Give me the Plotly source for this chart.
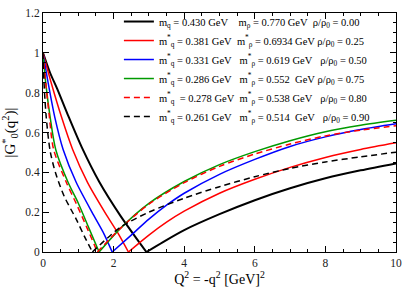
import plotly.graph_objects as go

# ---------------- data ----------------
labels = [
    "m<sub>q</sub> = 0.430 GeV\u00a0\u00a0\u00a0\u00a0m<sub>ρ</sub> = 0.770 GeV\u00a0\u00a0ρ/ρ<sub>0</sub> = 0.00",
    "m<sup>*</sup><sub>q</sub> = 0.381 GeV\u00a0\u00a0m<sup>*</sup><sub>ρ</sub> = 0.6934 GeV ρ/ρ<sub>0</sub> = 0.25",
    "m<sup>*</sup><sub>q</sub> = 0.331 GeV\u00a0\u00a0\u00a0m<sup>*</sup><sub>ρ</sub> = 0.619 GeV\u00a0\u00a0\u00a0ρ/ρ<sub>0</sub> = 0.50",
    "m<sup>*</sup><sub>q</sub> = 0.286 GeV\u00a0\u00a0\u00a0m<sup>*</sup><sub>ρ</sub> = 0.552\u00a0\u00a0GeV\u00a0ρ/ρ<sub>0</sub> = 0.75",
    "m<sup>*</sup><sub>q</sub>\u00a0\u00a0= 0.278 GeV\u00a0\u00a0m<sup>*</sup><sub>ρ</sub> = 0.538 GeV\u00a0\u00a0\u00a0ρ/ρ<sub>0</sub> = 0.80",
    "m<sup>*</sup><sub>q</sub> = 0.261 GeV\u00a0\u00a0\u00a0m<sup>*</sup><sub>ρ</sub> = 0.514\u00a0\u00a0GeV\u00a0\u00a0\u00a0ρ/ρ<sub>0</sub> = 0.90",
]

# black solid, rho/rho0 = 0.00
k_down_x = [0, 0.2, 0.4, 0.7, 1.1, 1.6, 2.2, 2.6, 2.93]
k_down_y = [1, 0.9, 0.82, 0.69, 0.525, 0.35, 0.18, 0.08, 0]
k_up_x = [2.93, 3.4, 4, 5, 6, 7, 8, 9, 10]
k_up_y = [0, 0.05, 0.11, 0.19, 0.26, 0.32, 0.37, 0.41, 0.445]

# red solid, 0.25
r_down_x = [0, 0.24, 0.52, 0.84, 1.26, 1.82, 2.14, 2.42]
r_down_y = [1, 0.845, 0.68, 0.515, 0.35, 0.18, 0.09, 0]
r_up_x = [2.42, 3, 3.5, 4, 5, 6, 7, 8, 9, 10]
r_up_y = [0, 0.085, 0.15, 0.205, 0.295, 0.365, 0.425, 0.475, 0.515, 0.548]

# blue solid, 0.50
b_down_x = [0, 0.15, 0.33, 0.57, 0.94, 1.45, 1.73, 1.96]
b_down_y = [1, 0.845, 0.68, 0.515, 0.35, 0.18, 0.09, 0]
b_up_x = [1.96, 2.5, 3, 3.5, 4, 5, 6, 7, 8, 9, 10]
b_up_y = [0, 0.085, 0.165, 0.235, 0.295, 0.39, 0.465, 0.53, 0.578, 0.615, 0.644]

# green solid, 0.75
g_down_x = [0, 0.08, 0.2, 0.36, 0.71, 1.0, 1.3, 1.59]
g_down_y = [1, 0.845, 0.68, 0.515, 0.35, 0.245, 0.12, 0]
g_up_x = [1.59, 2.2, 3, 4, 5, 6, 7, 8, 9, 10]
g_up_y = [0, 0.12, 0.244, 0.354, 0.439, 0.504, 0.559, 0.604, 0.636, 0.661]

# red dashed, 0.80
rd_down_x = [0, 0.08, 0.18, 0.3, 0.66, 0.95, 1.25, 1.54]
rd_down_y = [1, 0.845, 0.68, 0.515, 0.35, 0.24, 0.12, 0]
rd_up_x = [1.54, 2.2, 3, 4, 5, 6, 7, 8, 9, 10]
rd_up_y = [0, 0.12, 0.24, 0.348, 0.43, 0.492, 0.542, 0.583, 0.612, 0.634]

# black dashed, 0.90
kd_down_x = [0, 0.03, 0.09, 0.2, 0.35, 0.6, 0.94, 1.17, 1.40]
kd_down_y = [1, 0.845, 0.68, 0.51, 0.4, 0.28, 0.165, 0.08, 0]
kd_up_x = [1.40, 2.2, 3, 4, 5, 6, 7, 8, 9, 10]
kd_up_y = [0, 0.125, 0.2, 0.27, 0.328, 0.378, 0.42, 0.452, 0.478, 0.501]

x_ticks = [0, 2, 4, 6, 8, 10]
y_ticks = [0, 0.2, 0.4, 0.6, 0.8, 1, 1.2]

# ---------------- styling ----------------
series = [
    (k_down_x, k_down_y, k_up_x, k_up_y, "#000000", "solid", 2.0),
    (r_down_x, r_down_y, r_up_x, r_up_y, "#ff0000", "solid", 1.5),
    (b_down_x, b_down_y, b_up_x, b_up_y, "#0000ff", "solid", 1.5),
    (g_down_x, g_down_y, g_up_x, g_up_y, "#009a00", "solid", 1.5),
    (rd_down_x, rd_down_y, rd_up_x, rd_up_y, "#ff0000", "6px,4px", 1.5),
    (kd_down_x, kd_down_y, kd_up_x, kd_up_y, "#000000", "6px,4px", 1.5),
]

FONT = "Liberation Serif, Times New Roman, serif"

fig = go.Figure()
for i, ((dx, dy, ux, uy, col, dash, w), lab) in enumerate(zip(series, labels)):
    xs = list(dx) + [None] + list(ux)
    ys = list(dy) + [None] + list(uy)
    fig.add_trace(go.Scatter(
        x=xs, y=ys, mode="lines", name=lab, legendgroup=f"g{i}",
        line=dict(color=col, dash=dash, width=w, shape="spline", smoothing=0.8),
        connectgaps=False,
    ))

axis_common = dict(
    showline=True, linecolor="black", linewidth=1, mirror="allticks",
    ticks="inside", ticklen=6, tickwidth=1, tickcolor="black",
    showgrid=False, zeroline=False,
    tickfont=dict(family=FONT, size=11.5, color="#222"),
)

fig.update_xaxes(
    range=[0, 10], tickvals=x_ticks,
    minor=dict(ticks="inside", ticklen=3, tickcolor="black", dtick=0.5, showgrid=False),
    title=dict(text="Q<sup>2</sup> = -q<sup>2</sup> [GeV]<sup>2</sup>",
               font=dict(family=FONT, size=14, color="black"), standoff=2),
    **axis_common,
)
fig.update_yaxes(
    range=[0, 1.2], tickvals=y_ticks,
    minor=dict(ticks="inside", ticklen=3, tickcolor="black", dtick=0.05, showgrid=False),
    title=dict(text="|G<sup>*</sup><sub>0</sub>(q<sup>2</sup>)|",
               font=dict(family=FONT, size=15, color="black"), standoff=6),
    **axis_common,
)

fig.update_layout(
    width=409, height=288,
    margin=dict(l=43, r=7, t=12, b=35),
    paper_bgcolor="white", plot_bgcolor="white",
    showlegend=True,
    legend=dict(
        x=0.215, y=1.025, xanchor="left", yanchor="top",
        bgcolor="rgba(0,0,0,0)", borderwidth=0,
        font=dict(family=FONT, size=10.5, color="black"),
        itemwidth=30, tracegroupgap=0,
    ),
)

fig.write_html("out.html", config={"displayModeBar": False},
               post_script="document.body.style.margin='0px';document.body.style.padding='0px';")
